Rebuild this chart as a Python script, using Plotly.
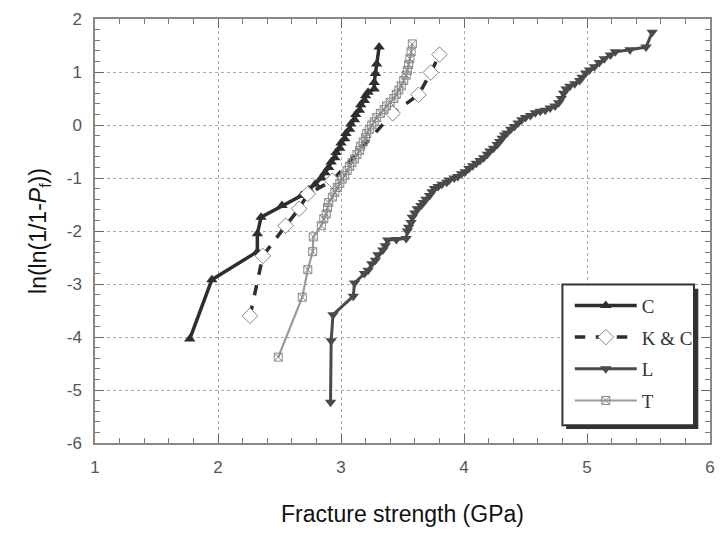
import plotly.graph_objects as go

# ---- data (Weibull plot) ----
c_x = [1.77, 1.95, 2.32, 2.32, 2.35, 2.52, 2.68, 2.74, 2.79, 2.84, 2.87, 2.90, 2.92, 2.95, 2.96, 2.99,
       3.00, 3.03, 3.04, 3.07, 3.08, 3.11, 3.12, 3.15, 3.16, 3.19, 3.20, 3.22, 3.27, 3.27, 3.28, 3.29, 3.31]
c_y = [-4.04, -2.92, -2.39, -2.05, -1.74, -1.52, -1.33, -1.22, -1.12, -1.00, -0.90, -0.80, -0.70, -0.62,
       -0.52, -0.44, -0.34, -0.26, -0.16, -0.08, 0.02, 0.10, 0.20, 0.28, 0.38, 0.46, 0.55, 0.62, 0.68,
       0.80, 0.97, 1.15, 1.47]

kc_x = [2.26, 2.365, 2.55, 2.66, 2.73, 2.93, 3.42, 3.63, 3.73, 3.80]
kc_y = [-3.60, -2.47, -1.90, -1.58, -1.30, -1.05, 0.22, 0.57, 0.99, 1.33]

l_x = [2.915, 2.92, 2.935, 3.10, 3.11, 3.19, 3.22, 3.25, 3.28, 3.30, 3.34, 3.36, 3.38, 3.45, 3.53, 3.54,
       3.55, 3.57, 3.58, 3.60, 3.62, 3.65, 3.67, 3.69, 3.72, 3.74, 3.76, 3.79, 3.82, 3.86, 3.88, 3.92,
       3.95, 3.98, 4.01, 4.04, 4.07, 4.10, 4.13, 4.16, 4.19, 4.21, 4.24, 4.27, 4.29, 4.31, 4.33, 4.35,
       4.38, 4.41, 4.44, 4.47, 4.50, 4.54, 4.58, 4.62, 4.66, 4.70, 4.74, 4.77, 4.79, 4.81, 4.83, 4.86,
       4.90, 4.94, 4.96, 4.99, 5.02, 5.06, 5.10, 5.14, 5.19, 5.23, 5.35, 5.48, 5.53]
l_y = [-5.23, -4.07, -3.58, -3.23, -2.98, -2.80, -2.74, -2.62, -2.55, -2.45, -2.36, -2.28, -2.17, -2.16,
       -2.14, -2.00, -1.93, -1.84, -1.74, -1.66, -1.58, -1.52, -1.46, -1.40, -1.33, -1.26, -1.20, -1.16,
       -1.12, -1.08, -1.04, -1.00, -0.97, -0.92, -0.88, -0.82, -0.77, -0.72, -0.67, -0.62, -0.55, -0.49,
       -0.44, -0.37, -0.31, -0.25, -0.19, -0.15, -0.08, -0.03, 0.04, 0.10, 0.14, 0.18, 0.23, 0.26, 0.28,
       0.32, 0.36, 0.42, 0.50, 0.60, 0.68, 0.73, 0.78, 0.84, 0.90, 0.98, 1.04, 1.10, 1.18, 1.25, 1.32,
       1.38, 1.42, 1.47, 1.75]

t_x = [2.49, 2.685, 2.73, 2.77, 2.775, 2.84, 2.86, 2.88, 2.89, 2.90, 2.93, 2.95, 2.97, 2.99, 3.01, 3.03,
       3.05, 3.07, 3.09, 3.11, 3.13, 3.15, 3.16, 3.18, 3.20, 3.21, 3.23, 3.25, 3.27, 3.29, 3.32, 3.35,
       3.37, 3.40, 3.43, 3.45, 3.47, 3.49, 3.51, 3.53, 3.54, 3.55, 3.56, 3.57, 3.58]
t_y = [-4.38, -3.25, -2.73, -2.39, -2.11, -1.90, -1.77, -1.68, -1.56, -1.46, -1.36, -1.27, -1.18, -1.10,
       -1.02, -0.95, -0.86, -0.78, -0.71, -0.64, -0.56, -0.48, -0.40, -0.32, -0.24, -0.16, -0.08, 0.00,
       0.06, 0.14, 0.22, 0.29, 0.36, 0.43, 0.50, 0.58, 0.66, 0.74, 0.84, 0.94, 1.03, 1.14, 1.25, 1.38, 1.53]

x_ticks = [1, 2, 3, 4, 5, 6]
x_labels = ["1", "2", "3", "4", "5", "6"]
y_ticks = [-6, -5, -4, -3, -2, -1, 0, 1, 2]
y_labels = ["-6", "-5", "-4", "-3", "-2", "-1", "0", "1", "2"]

fig = go.Figure()

fig.add_trace(go.Scatter(
    x=c_x, y=c_y, name="C", mode="lines+markers", legendgroup="c",
    line=dict(color="#2e2e2e", width=3.5),
    marker=dict(symbol="triangle-up", size=10, color="#2e2e2e")))

fig.add_trace(go.Scatter(
    x=kc_x, y=kc_y, name="K & C", mode="lines+markers", legendgroup="kc",
    line=dict(color="#2e2e2e", width=3.5, dash="dash"),
    marker=dict(symbol="diamond", size=12, color="white", line=dict(color="#888", width=1))))

fig.add_trace(go.Scatter(
    x=l_x, y=l_y, name="L", mode="lines+markers", legendgroup="l",
    line=dict(color="#4a4a4a", width=3),
    marker=dict(symbol="triangle-down", size=10, color="#4a4a4a")))

fig.add_trace(go.Scatter(
    x=t_x, y=t_y, name="T", mode="lines+markers", legendgroup="t",
    line=dict(color="#9a9a9a", width=2.2),
    marker=dict(symbol="square-x-open", size=8, color="#8a8a8a", line=dict(width=1))))

tickfont = dict(family="Liberation Sans, Arial", size=17, color="#555")
axis_common = dict(
    showline=True, linecolor="#888", linewidth=1.5, mirror="allticks",
    ticks="inside", ticklen=9, tickcolor="#666", tickwidth=1,
    minor=dict(ticks="inside", ticklen=5, tickcolor="#777", tickwidth=1, showgrid=False),
    showgrid=True, gridcolor="#aaa", griddash="dot", gridwidth=1.2,
    zeroline=False, tickfont=tickfont, ticklabelstandoff=8,
)

fig.update_xaxes(range=[1, 6], tickvals=x_ticks, ticktext=x_labels, minor_dtick=0.2,
                 title=dict(text="Fracture strength (GPa)", font=dict(family="Liberation Sans, Arial", size=23, color="#111"), standoff=30),
                 **axis_common)
fig.update_yaxes(range=[-6, 2], tickvals=y_ticks, ticktext=y_labels, minor_dtick=0.2,
                 title=dict(text="ln(ln(1/1-<i>P</i><sub>f</sub>))", font=dict(family="Liberation Sans, Arial", size=23, color="#111"), standoff=14),
                 **axis_common)

# legend box with shadow (decoration)
fig.add_shape(type="rect", xref="paper", yref="paper", x0=0.766, x1=0.981, y0=0.033, y1=0.364,
              fillcolor="#333", line=dict(width=0), layer="above")
fig.add_shape(type="rect", xref="paper", yref="paper", x0=0.760, x1=0.974, y0=0.042, y1=0.374,
              fillcolor="white", line=dict(color="#333", width=2), layer="above")

fig.update_layout(
    width=725, height=535,
    margin=dict(l=95, r=10, t=15, b=92),
    paper_bgcolor="white", plot_bgcolor="white",
    showlegend=True,
    legend=dict(x=0.772, y=0.369, xanchor="left", yanchor="top",
                bgcolor="rgba(0,0,0,0)", borderwidth=0,
                font=dict(family="Liberation Serif, Times New Roman", size=19, color="#333"),
                tracegroupgap=4, itemwidth=62),
)

fig.write_html("out.html")
